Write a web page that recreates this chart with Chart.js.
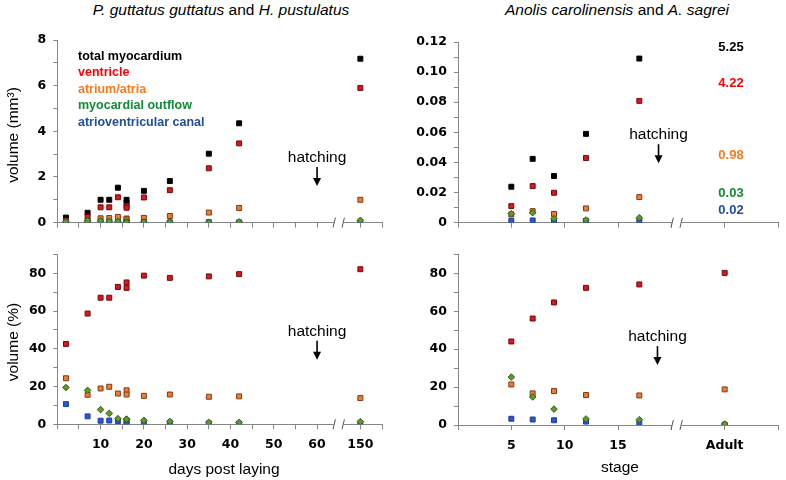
<!DOCTYPE html>
<html>
<head>
<meta charset="utf-8">
<script src="https://cdn.jsdelivr.net/npm/chart.js@4.4.1/dist/chart.umd.min.js"></script>
<style>
  body { margin: 0; background: #fff; width: 786px; height: 480px; overflow: hidden; position: relative; font-family: "Liberation Sans", Arial, sans-serif; }
  .box { position: absolute; width: 393px; height: 240px; }
  .title { position: absolute; top: 1px; font-size: 15.5px; white-space: nowrap; transform: translateX(-50%); color: #000; }
</style>
</head>
<body>
<div class="title" style="left:221px"><i>P. guttatus guttatus</i> and <i>H. pustulatus</i></div>
<div class="title" style="left:617px"><i>Anolis carolinensis</i> and <i>A. sagrei</i></div>
<div class="box" style="left:0;top:0"><canvas id="tl" width="393" height="240"></canvas></div>
<div class="box" style="left:0;top:240px"><canvas id="bl" width="393" height="240"></canvas></div>
<div class="box" style="left:393px;top:0"><canvas id="tr" width="393" height="240"></canvas></div>
<div class="box" style="left:393px;top:240px"><canvas id="br" width="393" height="240"></canvas></div>
<script>
// series (same order everywhere)
const seriesNames = ['total myocardium', 'ventricle', 'atrium/atria', 'myocardial outflow', 'atrioventricular canal'];
const textColors = ['#000000', '#ff0000', '#f47a20', '#138a36', '#1f4e9c'];
const markerFill = ['#000000', '#d8171e', '#f07d31', '#5d9a2b', '#2b55d4'];
const markerEdge = ['#000000', '#6e0a0a', '#7c3a12', '#335f16', '#203c9c'];
const markerStyle = ['rect', 'rect', 'rect', 'rectRot', 'rect'];
// draw order: higher first, so outflow diamonds end up on top of canal squares
const drawOrder = [4, 3, 2, 0, 1];

// P. guttatus / H. pustulatus, days post laying (150 sits after the axis break)
const daysLaid = [2, 7, 10, 12, 14, 16, 16, 20, 26, 35, 42, 150];
const dayTicks = [10, 20, 30, 40, 50, 60, 150];
const gutTotalMm3 = [0.22, 0.43, 1.00, 1.00, 1.53, 1.00, 0.87, 1.39, 1.82, 3.02, 4.35, 7.18];
const gutVentMm3 = [0.09, 0.26, 0.67, 0.67, 1.11, 0.72, 0.65, 1.10, 1.42, 2.38, 3.47, 5.90];
const gutAtrMm3 = [0.05, 0.07, 0.19, 0.20, 0.25, 0.18, 0.14, 0.21, 0.29, 0.44, 0.64, 1.00];
const gutOftMm3 = [0.04, 0.08, 0.08, 0.06, 0.05, 0.03, 0.02, 0.03, 0.03, 0.02, 0.03, 0.10];
const gutAvcMm3 = [0.02, 0.02, 0.02, 0.02, 0.02, 0.01, 0.01, 0.01, 0.01, 0.02, 0.01, 0.02];
const gutVentPct = [42.6, 58.7, 67.1, 67.1, 72.8, 75.2, 72.3, 78.8, 77.6, 78.4, 79.6, 82.2];
const gutAtrPct = [24.4, 15.6, 19.0, 19.9, 16.3, 18.0, 15.8, 15.1, 15.8, 14.6, 14.8, 13.9];
const gutOftPct = [19.5, 18.0, 7.8, 5.8, 3.0, 2.7, 2.7, 2.1, 1.5, 1.0, 1.0, 1.4];
const gutAvcPct = [10.7, 4.2, 1.9, 2.0, 1.7, 1.5, 1.2, 0.9, 0.8, 0.5, 0.4, 0.3];

// Anolis carolinensis / A. sagrei, stages (+ adult)
const anoStages = [5, 7, 9, 12, 17];
const stageTicks = [5, 10, 15];
const adultLabel = 'Adult';
const anoTotalMm3 = [0.0239, 0.0424, 0.0310, 0.0590, 0.1090];
const anoVentMm3 = [0.0110, 0.0243, 0.0199, 0.0429, 0.0809];
const anoAtrMm3 = [0.0055, 0.0077, 0.0058, 0.0095, 0.0170];
const anoOftMm3 = [0.0060, 0.0066, 0.0027, 0.0018, 0.0033];
const anoAvcMm3 = [0.0013, 0.0015, 0.0013, 0.0012, 0.0013];
const anoAdultMm3 = [5.25, 4.22, 0.98, 0.03, 0.02];
const anoVentPct = [44.1, 56.2, 64.7, 72.4, 74.2, 80.3];
const anoAtrPct = [21.4, 16.7, 17.9, 15.8, 15.6, 18.8];
const anoOftPct = [25.3, 14.8, 8.4, 3.2, 2.8, 0.5];
const anoAvcPct = [3.3, 2.9, 2.5, 1.8, 1.2, 0.2];

// broken axes: where the far point lands on the linear scale
const DAY_FAR = 150, DAY_FAR_POS = 70;
const ADULT_POS = 25;
const dayPos = d => (d === DAY_FAR ? DAY_FAR_POS : d);

const TICK_FONT = { family: 'DejaVu Sans', weight: 'bold', size: 12.5 };
const AXIS_GREY = '#868686';

function makeSets(xs, seriesList, first) {
  return seriesList.map((vals, i) => {
    const k = i + first;
    return {
      label: seriesNames[k],
      data: vals.map((v, j) => ({ x: xs[j], y: v })),
      pointStyle: markerStyle[k],
      pointRadius: k === 3 ? 3.3 : 3.5,
      backgroundColor: markerFill[k],
      borderColor: markerEdge[k],
      borderWidth: 1,
      order: drawOrder[k]
    };
  });
}

// text, arrows and axis breaks
const extrasPlugin = {
  id: 'extras',
  afterDraw(chart, args, opts) {
    const { ctx, chartArea } = chart;
    const x = chart.scales.x, y = chart.scales.y;
    ctx.save();
    if (opts.breakAt != null) {
      const bx = x.getPixelForValue(opts.breakAt);
      const by = chartArea.bottom;
      ctx.fillStyle = '#fff';
      ctx.fillRect(bx - 5, by - 2, 10, 9);
      ctx.strokeStyle = '#555';
      ctx.lineWidth = 1;
      [-4.5, 4.5].forEach(dx => {
        ctx.beginPath();
        ctx.moveTo(bx + dx - 1.2, by + 5);
        ctx.lineTo(bx + dx + 1.2, by - 5);
        ctx.stroke();
      });
    }
    if (opts.hatching) {
      const hx = x.getPixelForValue(opts.hatching[0]);
      const hy = y.getPixelForValue(opts.hatching[1]);
      ctx.fillStyle = '#000';
      ctx.font = '15.5px "Liberation Sans", Arial, sans-serif';
      ctx.textAlign = 'center';
      ctx.textBaseline = 'middle';
      ctx.fillText('hatching', hx, hy);
      ctx.strokeStyle = '#000';
      ctx.lineWidth = 1.6;
      ctx.beginPath();
      ctx.moveTo(hx, hy + 9);
      ctx.lineTo(hx, hy + 21);
      ctx.stroke();
      ctx.beginPath();
      ctx.moveTo(hx - 4, hy + 20);
      ctx.lineTo(hx + 4, hy + 20);
      ctx.lineTo(hx, hy + 28);
      ctx.closePath();
      ctx.fill();
    }
    (opts.texts || []).forEach(t => {
      ctx.save();
      ctx.fillStyle = t.color || '#000';
      ctx.font = t.font;
      ctx.textAlign = t.align || 'center';
      ctx.textBaseline = t.baseline || 'middle';
      ctx.translate(t.x, t.y);
      if (t.rotate) ctx.rotate(t.rotate);
      ctx.fillText(t.text, 0, 0);
      ctx.restore();
    });
    ctx.restore();
  }
};

function buildChart(id, cfg) {
  return new Chart(document.getElementById(id), {
    type: 'scatter',
    data: { datasets: cfg.datasets },
    options: {
      responsive: false,
      animation: false,
      events: [],
      layout: { padding: cfg.padding },
      plugins: { legend: { display: false }, tooltip: { enabled: false }, extras: cfg.extras },
      scales: {
        x: {
          type: 'linear', min: 0, max: cfg.xMax,
          afterFit: s => { s.height = cfg.xHeight; },
          grid: { display: true, drawOnChartArea: false, drawTicks: true, tickLength: 5, color: AXIS_GREY },
          border: { display: true, color: AXIS_GREY, width: 1 },
          ticks: { stepSize: 5, autoSkip: false, maxRotation: 0, padding: 8, color: '#000', font: TICK_FONT, callback: cfg.xLabel }
        },
        y: {
          type: 'linear', min: 0, max: cfg.yMax,
          afterFit: s => { s.width = cfg.yWidth; },
          grid: { display: true, drawOnChartArea: false, drawTicks: true, tickLength: 4, color: AXIS_GREY },
          border: { display: true, color: AXIS_GREY, width: 1 },
          ticks: { stepSize: cfg.yStep, autoSkip: false, padding: 7, color: '#000', font: TICK_FONT, callback: cfg.yLabel }
        }
      }
    },
    plugins: [extrasPlugin]
  });
}

const noLabel = () => '';
const dayLabel = v => {
  if (v === DAY_FAR_POS) return String(DAY_FAR);
  return dayTicks.includes(v) ? String(v) : '';
};
const stageLabel = v => (v === ADULT_POS ? adultLabel : (stageTicks.includes(v) ? String(v) : ''));
const evenInt = v => (Math.round(v) % 2 === 0 ? String(Math.round(v)) : '');
const evenTens = v => (Math.round(v / 10) % 2 === 0 ? String(Math.round(v)) : '');
const evenHundredths = v => {
  const k = Math.round(v * 100);
  if (k % 2 !== 0) return '';
  return k === 0 ? '0' : (k / 100).toFixed(2);
};

const TITLE_FONT = '15.5px "Liberation Sans", Arial, sans-serif';
const LEGEND_FONT = 'bold 12.5px "Liberation Sans", Arial, sans-serif';
const ADULT_FONT = 'bold 13px "Liberation Sans", Arial, sans-serif';

const gutX = daysLaid.map(dayPos);

buildChart('tl', {
  datasets: makeSets(gutX, [gutTotalMm3, gutVentMm3, gutAtrMm3, gutOftMm3, gutAvcMm3], 0),
  padding: { left: 0, top: 40, right: 11, bottom: 0 },
  xMax: 75, xHeight: 17.4, xLabel: noLabel,
  yMax: 8, yStep: 1, yWidth: 57.3, yLabel: evenInt,
  extras: {
    breakAt: 65,
    hatching: [60, 2.83],
    texts: [
      { text: 'volume (mm³)', x: 14, y: 135, rotate: -Math.PI / 2, font: TITLE_FONT }
    ].concat(seriesNames.map((name, i) => ({
      text: name, x: 78, y: 59.5 + i * 16.6, align: 'left', baseline: 'alphabetic', color: textColors[i], font: LEGEND_FONT
    })))
  }
});

buildChart('bl', {
  datasets: makeSets(gutX, [gutVentPct, gutAtrPct, gutOftPct, gutAvcPct], 1),
  padding: { left: 0, top: 7.8, right: 11, bottom: 0 },
  xMax: 75, xHeight: 55.7, xLabel: dayLabel,
  yMax: 90, yStep: 10, yWidth: 57.3, yLabel: evenTens,
  extras: {
    breakAt: 65,
    hatching: [60, 49.1],
    texts: [
      { text: 'volume (%)', x: 14, y: 102, rotate: -Math.PI / 2, font: TITLE_FONT },
      { text: 'days post laying', x: 224, y: 230, font: TITLE_FONT }
    ]
  }
});

const adultY = [47, 83.3, 155, 193.8, 210.8];
buildChart('tr', {
  datasets: makeSets(anoStages, [anoTotalMm3, anoVentMm3, anoAtrMm3, anoOftMm3, anoAvcMm3], 0),
  padding: { left: 0, top: 42, right: 5.5, bottom: 0 },
  xMax: 30, xHeight: 17.3, xLabel: noLabel,
  yMax: 0.12, yStep: 0.01, yWidth: 65, yLabel: evenHundredths,
  extras: {
    breakAt: 20.5,
    hatching: [18.8, 0.0581],
    texts: anoAdultMm3.map((v, i) => ({
      text: v.toFixed(2), x: 338, y: adultY[i], color: textColors[i], font: ADULT_FONT
    }))
  }
});

buildChart('br', {
  datasets: makeSets(anoStages.concat([ADULT_POS]), [anoVentPct, anoAtrPct, anoOftPct, anoAvcPct], 1),
  padding: { left: 0, top: 14.3, right: 5.5, bottom: 0 },
  xMax: 30, xHeight: 55, xLabel: stageLabel,
  yMax: 90, yStep: 10, yWidth: 65, yLabel: evenTens,
  extras: {
    breakAt: 20.5,
    hatching: [18.7, 46.4],
    texts: [
      { text: 'stage', x: 227, y: 228, font: TITLE_FONT }
    ]
  }
});
</script>
</body>
</html>
